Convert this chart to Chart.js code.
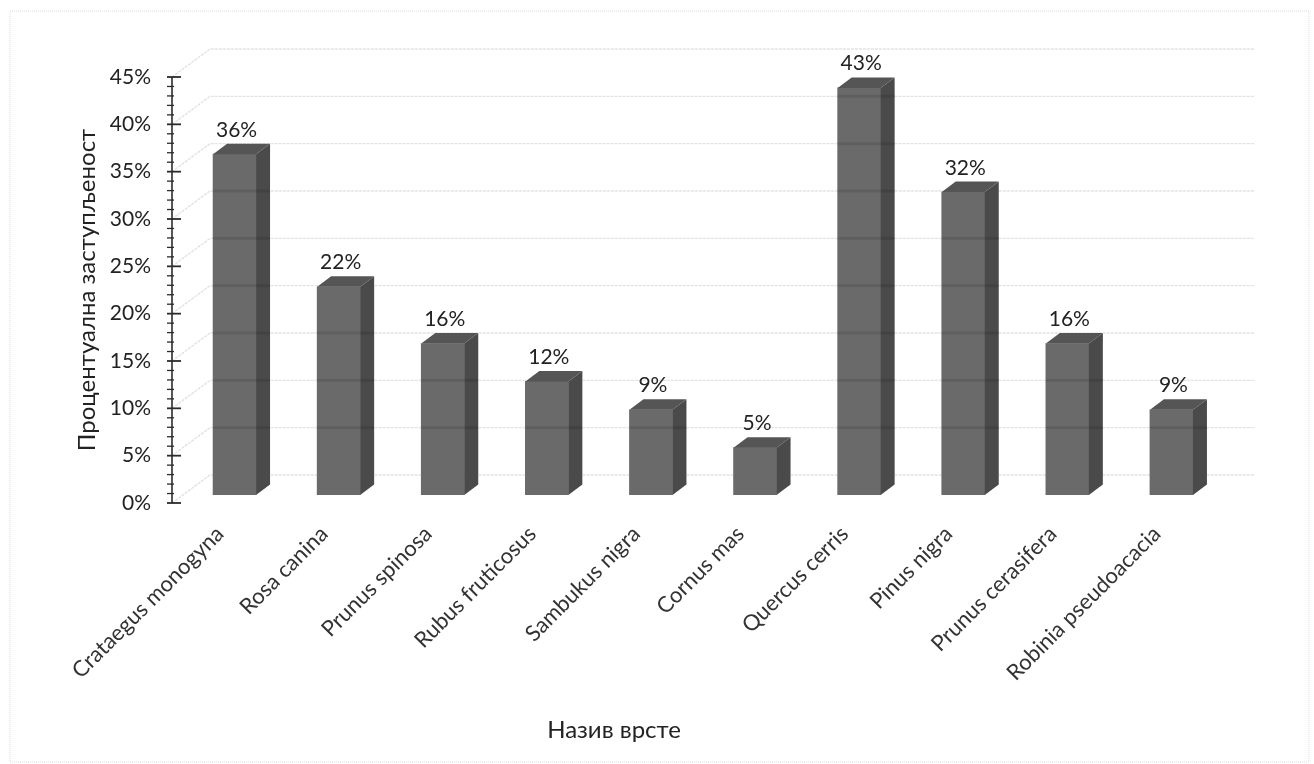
<!DOCTYPE html>
<html><head><meta charset="utf-8">
<style>html,body{margin:0;padding:0;background:#fff}#w{width:1314px;height:764px;position:relative}</style>
<script src="https://cdn.jsdelivr.net/npm/chart.js@4"></script>
</head><body><div id="w"><canvas id="c" width="1314" height="764"></canvas></div>
<script>
const categories=["Crataegus monogyna","Rosa canina","Prunus spinosa","Rubus fruticosus","Sambukus nigra","Cornus mas","Quercus cerris","Pinus nigra","Prunus cerasifera","Robinia pseudoacacia"];
const shares=[36,22,16,12,9,5,43,32,16,9];
const yTitle="Процентуална заступљеност";
const xTitle="Назив врсте";
const FONT='Lato';
const shiftX=10.5, shiftY=-8, depthX=14, depthY=10.5, wallX=38, wallY=28, wallRight=1255;
function stipple(a,b){const p=document.createElement('canvas');p.width=p.height=2;const x=p.getContext('2d');
  x.fillStyle=a;x.fillRect(0,0,2,2);x.fillStyle=b;x.fillRect(0,0,1,1);x.fillRect(1,1,1,1);
  return document.getElementById('c').getContext('2d').createPattern(p,'repeat');}
const faceFill=stipple('#747474','#606060'),sideFill=stipple('#525252','#424242'),topFill=stipple('#5e5e5e','#4c4c4c');
const wall={id:'wall',beforeDatasetsDraw(ch){
  const c=ch.ctx,y=ch.scales.y,ax=y.right;
  c.save();c.strokeStyle='#e2e2e2';c.lineWidth=1.4;c.setLineDash([3,1]);
  y.ticks.forEach(t=>{ if(t.value%5) return;
    const p=y.getPixelForValue(t.value);
    c.beginPath();c.moveTo(ax,p);c.lineTo(ax+wallX,p-wallY);c.lineTo(wallRight,p-wallY);c.stroke();});
  c.setLineDash([]);c.strokeStyle='#2b2b2b';c.lineWidth=1.6;
  c.beginPath();c.moveTo(ax,y.top);c.lineTo(ax,y.bottom);c.stroke();
  y.ticks.forEach(t=>{const p=y.getPixelForValue(t.value),M=t.value%5===0;
    c.lineWidth=M?1.8:1.3;c.beginPath();c.moveTo(ax-5,p);c.lineTo(ax+(M?9:2),p);c.stroke();});
  c.restore();
  c.save();c.translate(shiftX,shiftY);
},afterDatasetsDraw(ch){
  const c=ch.ctx,m=ch.getDatasetMeta(0),ys=ch.scales.y;
  m.data.forEach((b,i)=>{
    const l=b.x-b.width/2,r=b.x+b.width/2,t=b.y,bt=b.base;
    c.fillStyle=sideFill;c.beginPath();c.moveTo(r,t);c.lineTo(r+depthX,t-depthY);c.lineTo(r+depthX,bt-depthY);c.lineTo(r,bt);c.closePath();c.fill();
    c.fillStyle=topFill;c.beginPath();c.moveTo(l,t);c.lineTo(l+depthX,t-depthY);c.lineTo(r+depthX,t-depthY);c.lineTo(r,t);c.closePath();c.fill();
    c.fillStyle='rgba(0,0,0,0.10)';
    [5,10,15,20,25,30,35,40].forEach(v=>{const p=ys.getPixelForValue(v)-wallY-shiftY;
      if(p>t+2&&p<bt-2)c.fillRect(l,p-1.5,b.width+depthX,3);});
    c.fillStyle='#222';c.font='21px '+FONT;c.textAlign='center';c.textBaseline='alphabetic';
    c.fillText(shares[i]+'%',b.x+2,t-depthY-7);
  });
  c.restore();
  c.save();c.fillStyle='#222';
  c.font='24px '+FONT;c.textAlign='center';c.textBaseline='middle';
  c.fillText(xTitle,614,730);
  c.translate(87,290);c.rotate(-Math.PI/2);c.font='24px '+FONT;c.fillText(yTitle,0,0);
  c.restore();
  c.save();c.strokeStyle='#dcdcdc';c.lineWidth=1;c.setLineDash([1,1]);c.strokeRect(10,11,1299,751);c.restore();
}};
new Chart(document.getElementById('c'),{type:'bar',
 data:{labels:categories,datasets:[{data:shares,backgroundColor:faceFill,barThickness:43}]},
 plugins:[wall],
 options:{responsive:false,animation:false,
  layout:{padding:{left:0,top:77,right:101,bottom:0}},
  plugins:{legend:{display:false},tooltip:{enabled:false}},
  scales:{
   y:{min:0,max:45,afterFit(s){s.width=172;},
      ticks:{stepSize:1,autoSkip:false,padding:13,color:'#222',font:{family:FONT,size:21},callback:v=>v%5===0?v+'%':''},
      grid:{display:false},border:{display:false}},
   x:{afterFit(s){s.height=261;},
      ticks:{minRotation:45,maxRotation:45,autoSkip:false,padding:10,labelOffset:-4,color:'#333',font:{family:FONT,size:22}},
      grid:{display:false},border:{display:false}}
  }}});
</script></body></html>
